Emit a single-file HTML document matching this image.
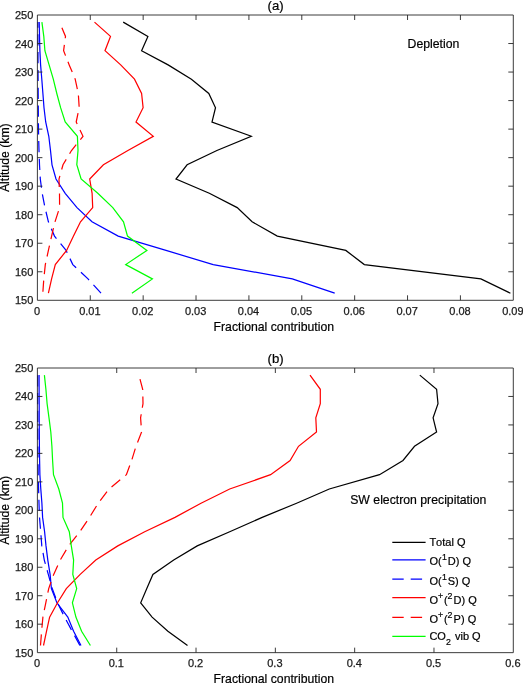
<!DOCTYPE html>
<html><head><meta charset="utf-8"><title>Fractional contribution</title>
<style>
html,body{margin:0;padding:0;background:#fff}
svg{display:block}
text{font-family:"Liberation Sans",sans-serif;fill:#1a1a1a;font-kerning:none}
.t{font-size:11px;stroke:#1a1a1a;stroke-width:0.25px}
.l{font-size:12.25px;fill:#000;stroke:#000;stroke-width:0.2px}
.g{font-size:11px;fill:#000;stroke:#000;stroke-width:0.2px}
.s{font-size:8.8px}
.ax{stroke:#262626;stroke-width:0.9;fill:none}
.c polyline{fill:none;stroke-width:1.22;stroke-linejoin:miter;stroke-linecap:butt}
</style></head><body>
<svg width="523" height="683" viewBox="0 0 523 683">
<rect width="523" height="683" fill="#fff"/>
<g class="c">
<polyline points="510.4,293.2 480.9,278.9 364.3,264.6 345.8,250.4 277.3,236.1 252.1,221.8 237.2,207.6 209.3,193.3 176.0,179.0 187.1,164.8 216.9,150.5 251.3,136.3 212.0,122.0 215.5,107.7 208.8,93.5 191.4,79.2 168.1,64.9 141.6,50.7 147.9,36.4 123.2,22.1" stroke="#000"/>
<polyline points="334.7,293.2 292.3,278.9 213.2,264.6 166.0,250.4 118.2,236.1 92.0,221.8 77.0,207.6 65.2,193.3 56.0,179.0 52.0,164.8 50.5,150.5 48.8,136.3 45.7,122.0 44.0,107.7 42.9,93.5 41.8,79.2 40.6,64.9 39.9,50.7 39.5,36.4 39.2,22.1" stroke="#00f"/>
<polyline points="101.0,293.2 88.0,278.9 72.8,264.6 66.1,250.4 54.5,236.1 48.4,221.8 45.0,207.6 42.2,193.3 40.3,179.0 39.5,164.8 39.0,150.5 38.6,136.3 38.4,122.0 38.3,107.7 38.2,93.5 38.1,79.2 38.0,64.9 38.0,50.7 37.9,36.4 37.9,22.1" stroke="#00f" stroke-dasharray="11.2 6.6" stroke-dashoffset="0"/>
<polyline points="48.4,293.2 51.6,278.9 55.3,264.6 66.6,250.4 73.5,236.1 80.5,221.8 92.7,207.6 92.1,193.3 89.7,179.0 103.4,164.8 127.9,150.5 153.3,136.3 136.0,122.0 143.1,107.7 141.6,93.5 134.5,79.2 120.7,64.9 105.0,50.7 110.5,36.4 94.5,22.1" stroke="#f00"/>
<polyline points="42.8,293.2 43.8,278.9 45.3,264.6 48.4,250.4 51.6,236.1 55.0,221.8 59.6,207.6 59.5,193.3 59.0,179.0 63.0,164.8 71.5,150.5 83.0,136.3 76.2,122.0 79.2,107.7 78.3,93.5 75.2,79.2 69.2,64.9 63.6,50.7 65.5,36.4 59.5,22.1" stroke="#f00" stroke-dasharray="11.2 6.6" stroke-dashoffset="-1.4"/>
<polyline points="131.9,293.2 152.4,278.9 125.7,264.6 146.9,250.4 127.5,236.1 123.5,221.8 112.8,207.6 97.8,193.3 81.1,179.0 76.8,164.8 78.0,150.5 77.4,136.3 65.2,122.0 60.6,107.7 56.8,93.5 53.3,79.2 49.1,64.9 44.9,50.7 43.8,36.4 41.9,22.1" stroke="#0f0"/>
</g>
<path class="ax" d="M37.40 15.00H513.30V300.30H37.40ZM90.28 15.00v5.0M90.28 300.30v-5.0M143.16 15.00v5.0M143.16 300.30v-5.0M196.03 15.00v5.0M196.03 300.30v-5.0M248.91 15.00v5.0M248.91 300.30v-5.0M301.79 15.00v5.0M301.79 300.30v-5.0M354.67 15.00v5.0M354.67 300.30v-5.0M407.54 15.00v5.0M407.54 300.30v-5.0M460.42 15.00v5.0M460.42 300.30v-5.0M37.40 43.53h5.0M513.30 43.53h-5.0M37.40 72.06h5.0M513.30 72.06h-5.0M37.40 100.59h5.0M513.30 100.59h-5.0M37.40 129.12h5.0M513.30 129.12h-5.0M37.40 157.65h5.0M513.30 157.65h-5.0M37.40 186.18h5.0M513.30 186.18h-5.0M37.40 214.71h5.0M513.30 214.71h-5.0M37.40 243.24h5.0M513.30 243.24h-5.0M37.40 271.77h5.0M513.30 271.77h-5.0"/>
<text class="t" x="37.0" y="314.9" text-anchor="middle">0</text>
<text class="t" x="89.9" y="314.9" text-anchor="middle">0.01</text>
<text class="t" x="142.8" y="314.9" text-anchor="middle">0.02</text>
<text class="t" x="195.6" y="314.9" text-anchor="middle">0.03</text>
<text class="t" x="248.5" y="314.9" text-anchor="middle">0.04</text>
<text class="t" x="301.4" y="314.9" text-anchor="middle">0.05</text>
<text class="t" x="354.3" y="314.9" text-anchor="middle">0.06</text>
<text class="t" x="407.1" y="314.9" text-anchor="middle">0.07</text>
<text class="t" x="460.0" y="314.9" text-anchor="middle">0.08</text>
<text class="t" x="512.9" y="314.9" text-anchor="middle">0.09</text>
<text class="t" x="33.25" y="18.9" text-anchor="end">250</text>
<text class="t" x="33.25" y="47.5" text-anchor="end">240</text>
<text class="t" x="33.25" y="76.0" text-anchor="end">230</text>
<text class="t" x="33.25" y="104.5" text-anchor="end">220</text>
<text class="t" x="33.25" y="133.1" text-anchor="end">210</text>
<text class="t" x="33.25" y="161.6" text-anchor="end">200</text>
<text class="t" x="33.25" y="190.1" text-anchor="end">190</text>
<text class="t" x="33.25" y="218.7" text-anchor="end">180</text>
<text class="t" x="33.25" y="247.2" text-anchor="end">170</text>
<text class="t" x="33.25" y="275.7" text-anchor="end">160</text>
<text class="t" x="33.25" y="304.2" text-anchor="end">150</text>
<text class="l" transform="translate(9.2 157.7) rotate(-90)" text-anchor="middle">Altitude (km)</text>
<text class="l" x="273.8" y="330.7" text-anchor="middle">Fractional contribution</text>
<text class="l" style="font-size:13.2px" x="275.6" y="9.7" text-anchor="middle">(a)</text>
<text class="l" x="407.6" y="48.1">Depletion</text>
<g class="c">
<polyline points="187.5,645.5 167.9,631.3 152.1,617.1 140.7,602.8 146.8,588.6 152.9,574.4 173.7,560.1 197.2,545.9 229.7,531.7 262.2,517.4 296.6,503.2 329.3,489.0 379.5,474.7 403.0,460.5 414.5,446.3 436.6,432.0 433.1,417.8 438.0,403.6 436.6,389.3 419.8,375.1" stroke="#000"/>
<polyline points="81.0,645.5 73.6,631.3 67.8,617.1 56.9,602.8 51.4,588.6 50.1,574.4 47.8,560.1 46.0,545.9 44.6,531.7 42.6,517.4 41.9,503.2 40.8,489.0 39.9,474.7 39.6,460.5 39.4,446.3 39.3,432.0 39.2,417.8 39.2,403.6 39.1,389.3 39.1,375.1" stroke="#00f"/>
<polyline points="79.9,645.5 72.2,631.3 64.6,617.1 57.5,602.8 52.3,588.6 48.3,574.4 44.3,560.1 41.8,545.9 40.7,531.7 39.5,517.4 39.0,503.2 38.6,489.0 38.2,474.7 38.0,460.5 37.9,446.3 37.8,432.0 37.8,417.8 37.7,403.6 37.7,389.3 37.7,375.1" stroke="#00f" stroke-dasharray="11.2 6.6" stroke-dashoffset="0"/>
<polyline points="43.5,645.5 46.5,631.3 49.6,617.1 57.5,602.8 66.3,588.6 80.2,574.4 95.8,560.1 117.8,545.9 144.7,531.7 175.0,517.4 201.0,503.2 229.7,489.0 270.6,474.7 290.1,460.5 298.5,446.3 316.5,432.0 315.8,417.8 320.3,403.6 320.3,389.3 310.0,375.1" stroke="#f00"/>
<polyline points="40.5,645.5 41.6,631.3 42.9,617.1 45.8,602.8 48.7,588.6 53.7,574.4 60.2,560.1 68.6,545.9 79.8,531.7 89.5,517.4 98.2,503.2 109.0,489.0 126.4,474.7 131.6,460.5 136.0,446.3 141.6,432.0 140.6,417.8 143.0,403.6 142.7,389.3 138.9,375.1" stroke="#f00" stroke-dasharray="11.2 6.6" stroke-dashoffset="0"/>
<polyline points="90.4,645.5 81.6,631.3 75.9,617.1 72.4,602.8 76.7,588.6 72.8,574.4 73.6,560.1 71.3,545.9 69.3,531.7 63.0,517.4 62.5,503.2 58.8,489.0 53.5,474.7 52.6,460.5 51.9,446.3 50.8,432.0 49.0,417.8 47.1,403.6 45.9,389.3 44.4,375.1" stroke="#0f0"/>
</g>
<path class="ax" d="M37.40 368.00H513.30V652.65H37.40ZM116.72 368.00v5.0M116.72 652.65v-5.0M196.03 368.00v5.0M196.03 652.65v-5.0M275.35 368.00v5.0M275.35 652.65v-5.0M354.67 368.00v5.0M354.67 652.65v-5.0M433.98 368.00v5.0M433.98 652.65v-5.0M37.40 396.46h5.0M513.30 396.46h-5.0M37.40 424.93h5.0M513.30 424.93h-5.0M37.40 453.39h5.0M513.30 453.39h-5.0M37.40 481.86h5.0M513.30 481.86h-5.0M37.40 510.32h5.0M513.30 510.32h-5.0M37.40 538.79h5.0M513.30 538.79h-5.0M37.40 567.25h5.0M513.30 567.25h-5.0M37.40 595.72h5.0M513.30 595.72h-5.0M37.40 624.18h5.0M513.30 624.18h-5.0"/>
<text class="t" x="37.0" y="667.3" text-anchor="middle">0</text>
<text class="t" x="116.3" y="667.3" text-anchor="middle">0.1</text>
<text class="t" x="195.6" y="667.3" text-anchor="middle">0.2</text>
<text class="t" x="274.9" y="667.3" text-anchor="middle">0.3</text>
<text class="t" x="354.3" y="667.3" text-anchor="middle">0.4</text>
<text class="t" x="433.6" y="667.3" text-anchor="middle">0.5</text>
<text class="t" x="512.9" y="667.3" text-anchor="middle">0.6</text>
<text class="t" x="33.25" y="371.9" text-anchor="end">250</text>
<text class="t" x="33.25" y="400.4" text-anchor="end">240</text>
<text class="t" x="33.25" y="428.9" text-anchor="end">230</text>
<text class="t" x="33.25" y="457.3" text-anchor="end">220</text>
<text class="t" x="33.25" y="485.8" text-anchor="end">210</text>
<text class="t" x="33.25" y="514.3" text-anchor="end">200</text>
<text class="t" x="33.25" y="542.7" text-anchor="end">190</text>
<text class="t" x="33.25" y="571.2" text-anchor="end">180</text>
<text class="t" x="33.25" y="599.7" text-anchor="end">170</text>
<text class="t" x="33.25" y="628.1" text-anchor="end">160</text>
<text class="t" x="33.25" y="656.6" text-anchor="end">150</text>
<text class="l" transform="translate(9.2 510.3) rotate(-90)" text-anchor="middle">Altitude (km)</text>
<text class="l" x="273.8" y="683.0" text-anchor="middle">Fractional contribution</text>
<text class="l" style="font-size:13.2px" x="275.6" y="362.7" text-anchor="middle">(b)</text>
<text class="l" x="350.2" y="503.8">SW electron precipitation</text>
<g class="c">
<polyline points="392.3,542.4 425.6,542.4" stroke="#000"/>
<polyline points="392.3,559.8 425.6,559.8" stroke="#00f"/>
<polyline points="392.3,579.2 425.6,579.2" stroke="#00f" stroke-dasharray="11.4 7"/>
<polyline points="392.3,597.6 425.6,597.6" stroke="#f00"/>
<polyline points="392.3,617.4 425.6,617.4" stroke="#f00" stroke-dasharray="11.4 7"/>
<polyline points="392.3,636.3 425.6,636.3" stroke="#0f0"/>
</g>
<text class="g" x="429.4" y="546.1">Total Q</text>
<text class="g" x="429.4" y="564.8">O(<tspan class="s" dy="-4.8" dx="0.3">1</tspan><tspan dy="4.8" dx="0.9">D) Q</tspan></text>
<text class="g" x="429.4" y="584.6">O(<tspan class="s" dy="-4.8" dx="0.3">1</tspan><tspan dy="4.8" dx="0.9">S) Q</tspan></text>
<text class="g" x="429.4" y="603.7">O<tspan class="s" dy="-4.8" dx="0">+</tspan><tspan dy="4.8" dx="0.8">(</tspan><tspan class="s" dy="-4.8" dx="0">2</tspan><tspan dy="4.8" dx="1.1">D) Q</tspan></text>
<text class="g" x="429.4" y="622.7">O<tspan class="s" dy="-4.8" dx="0">+</tspan><tspan dy="4.8" dx="0.8">(</tspan><tspan class="s" dy="-4.8" dx="0">2</tspan><tspan dy="4.8" dx="1.1">P) Q</tspan></text>
<text class="g" x="429.4" y="639.9">CO<tspan class="s" dy="5.3">2</tspan><tspan dy="-5.3" dx="1.1"> vib Q</tspan></text>
</svg></body></html>
